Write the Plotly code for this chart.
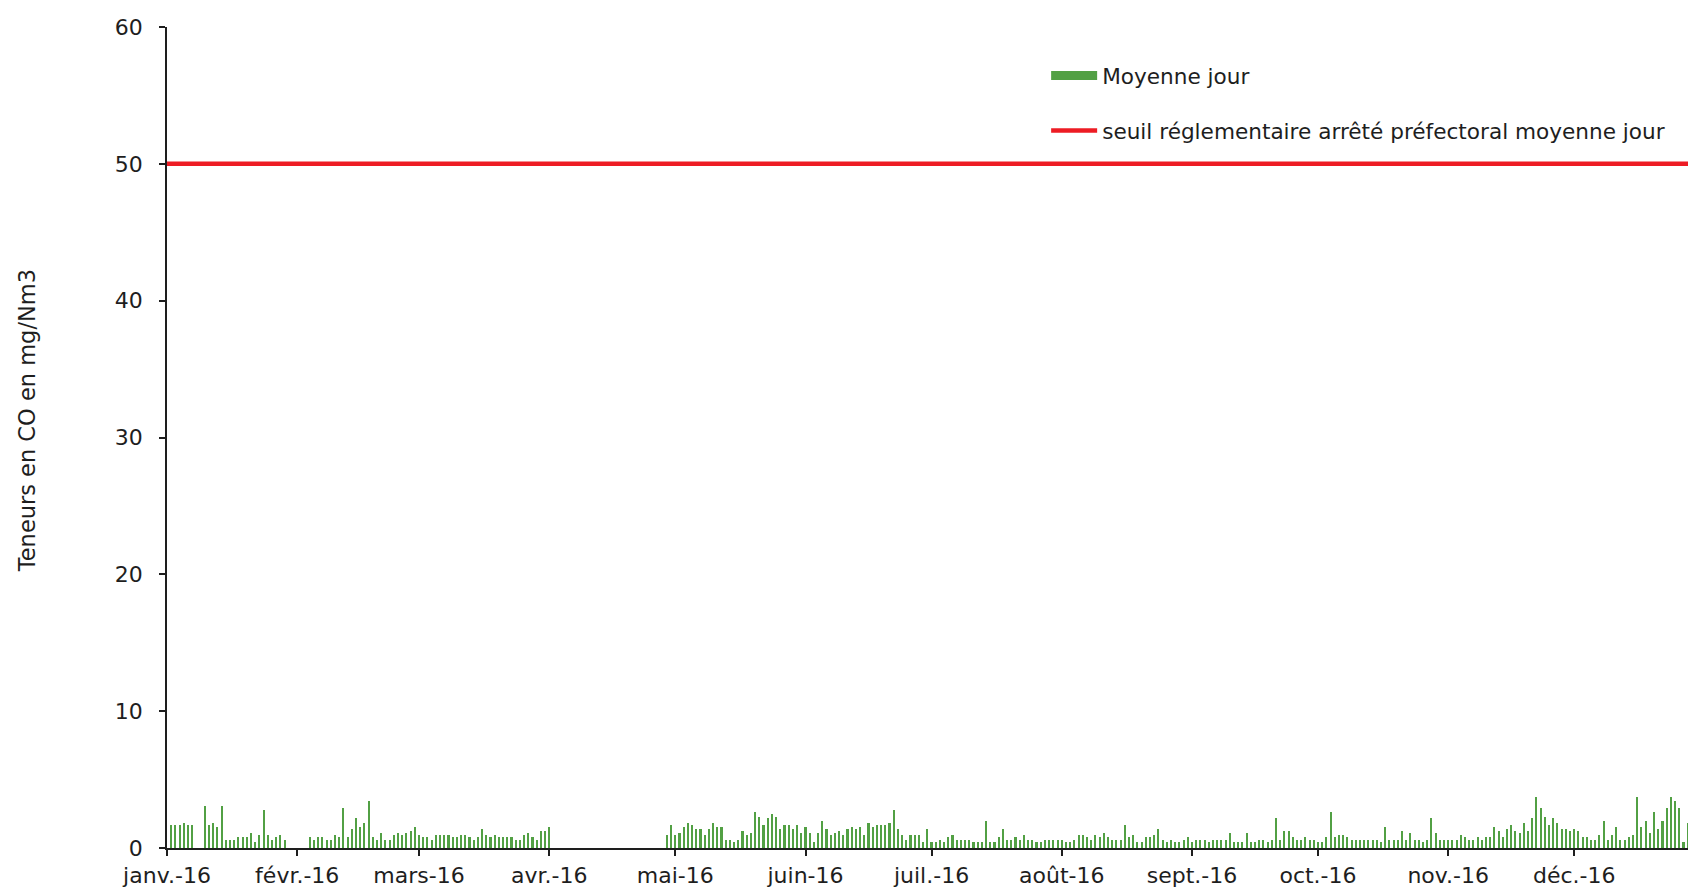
import datetime as dt
import plotly.graph_objects as go

# ---- data (daily means, mg/Nm3), None = no measurement ----
jan = [1.7, 1.7, 1.7, 1.85, 1.7, 1.7, None, None,
       3.1, 1.7, 1.85, 1.55, 3.1, 0.6, 0.6, 0.6, 0.78, 0.78, 0.78, 1.07,
       0.46, 0.93, 2.8, 0.93, 0.6, 0.78, 0.93, 0.6, None, None, None]
feb = [None, None,
       0.78, 0.6, 0.78, 0.78, 0.6, 0.6, 0.93, 0.78, 2.95, 0.78, 1.4, 2.17, 1.56,
       1.85, 3.4, 0.78, 0.6, 1.07, 0.6, 0.6, 0.93, 1.07, 0.93, 1.07, 1.24, 1.56, 0.93]
mar = [0.78, 0.78, 0.6, 0.93, 0.93, 0.93, 0.93, 0.78, 0.78, 0.93,
       0.93, 0.78, 0.6, 0.78, 1.4, 0.93, 0.78, 0.93, 0.78, 0.78,
       0.78, 0.78, 0.6, 0.6, 0.93, 1.07, 0.78, 0.6, 1.24, 1.24, 1.56]
apr = [None] * 27 + [0.93, 1.7, 0.93]
may = [1.1, 1.56, 1.85, 1.7, 1.4, 1.4, 0.93, 1.4, 1.85, 1.56,
       1.56, 0.6, 0.6, 0.46, 0.6, 1.24, 0.93, 1.1, 2.63, 2.3,
       1.7, 2.17, 2.5, 2.3, 1.4, 1.7, 1.7, 1.4, 1.7, 1.1, 1.56]
jun = [1.1, 0.46, 1.1, 2.0, 1.4, 0.93, 1.1, 1.24, 0.93, 1.4,
       1.56, 1.4, 1.56, 0.93, 1.85, 1.56, 1.7, 1.7, 1.7, 1.85,
       2.8, 1.4, 0.93, 0.6, 0.93, 0.93, 0.93, 0.46, 1.4, 0.46]
jul = [0.46, 0.6, 0.46, 0.78, 0.93, 0.6, 0.6, 0.6, 0.6, 0.46,
       0.46, 0.46, 2.0, 0.46, 0.46, 0.78, 1.4, 0.6, 0.6, 0.78,
       0.6, 0.93, 0.6, 0.6, 0.46, 0.46, 0.6, 0.6, 0.6, 0.6, 0.6]
aug = [0.46, 0.46, 0.6, 0.93, 0.93, 0.78, 0.6, 0.93, 0.78, 1.07,
       0.78, 0.6, 0.6, 0.6, 1.7, 0.78, 0.93, 0.46, 0.46, 0.78,
       0.78, 0.93, 1.4, 0.6, 0.46, 0.6, 0.46, 0.46, 0.6, 0.78, 0.46]
sep = [0.6, 0.6, 0.6, 0.46, 0.6, 0.6, 0.6, 0.6, 1.07, 0.46,
       0.46, 0.46, 1.07, 0.46, 0.46, 0.6, 0.6, 0.46, 0.6, 2.17,
       0.6, 1.24, 1.24, 0.78, 0.6, 0.6, 0.78, 0.6, 0.6, 0.46]
oct_ = [0.46, 0.78, 2.63, 0.78, 0.93, 0.93, 0.78, 0.6, 0.6, 0.6,
        0.6, 0.6, 0.6, 0.6, 0.46, 1.56, 0.6, 0.6, 0.6, 1.24,
        0.6, 1.07, 0.6, 0.6, 0.46, 0.6, 2.17, 1.07, 0.6, 0.6, 0.6]
nov = [0.6, 0.6, 0.93, 0.78, 0.6, 0.6, 0.78, 0.6, 0.78, 0.78,
       1.56, 1.24, 0.78, 1.4, 1.7, 1.24, 1.07, 1.85, 1.24, 2.17,
       3.73, 2.95, 2.3, 1.7, 2.17, 1.85, 1.4, 1.4, 1.24, 1.4]
dec = [1.24, 0.78, 0.78, 0.6, 0.6, 0.93, 2.0, 0.6, 0.93, 1.56,
       0.6, 0.6, 0.78, 0.93, 3.73, 1.56, 2.0, 1.07, 2.63, 1.4,
       2.0, 2.95, 3.73, 3.4, 2.95, 0.46, 1.85, None, None, None, None]

daily_values = jan + feb + mar + apr + may + jun + jul + aug + sep + oct_ + nov + dec
start_day = dt.date(2016, 1, 1)
daily_dates = [(start_day + dt.timedelta(days=i)).isoformat() for i in range(len(daily_values))]

seuil_dates = ["2016-01-01", "2016-12-31"]
seuil_values = [50, 50]

month_ticks = ["2016-01-01", "2016-02-01", "2016-03-01", "2016-04-01", "2016-05-01", "2016-06-01",
               "2016-07-01", "2016-08-01", "2016-09-01", "2016-10-01", "2016-11-01", "2016-12-01"]
month_labels = ["janv.-16", "févr.-16", "mars-16", "avr.-16", "mai-16", "juin-16",
                "juil.-16", "août-16", "sept.-16", "oct.-16", "nov.-16", "déc.-16"]
y_ticks = [0, 10, 20, 30, 40, 50, 60]

GREEN = "#52a044"
RED = "#ed1c24"
FONT = "DejaVu Sans"
TXT = "#1e1e1e"
DAY_MS = 86400000

fig = go.Figure()
fig.add_trace(go.Bar(
    x=daily_dates, y=daily_values, xperiod=DAY_MS, xperiodalignment="end",
    width=0.5 * DAY_MS, marker=dict(color=GREEN, line=dict(width=0)),
    showlegend=False, name="Moyenne jour"))
# legend entry for the bars (wide flat swatch like the original)
fig.add_trace(go.Scatter(
    x=[None], y=[None], mode="lines", line=dict(color=GREEN, width=9),
    name="Moyenne jour", legendgroup="a"))
fig.add_trace(go.Scatter(
    x=seuil_dates, y=seuil_values, mode="lines", line=dict(color=RED, width=4.5),
    name="seuil réglementaire arrêté préfectoral moyenne jour", legendgroup="b"))

fig.update_layout(
    width=1688, height=888,
    margin=dict(l=167, r=0, t=27, b=40),
    paper_bgcolor="white", plot_bgcolor="white",
    font=dict(family=FONT, size=22, color=TXT),
    bargap=0,
    legend=dict(x=0.578, y=0.966, xanchor="left", yanchor="top",
                traceorder="grouped", tracegroupgap=24, itemwidth=46,
                bgcolor="rgba(0,0,0,0)", font=dict(family=FONT, size=21.6, color=TXT)),
    xaxis=dict(
        type="date", range=["2016-01-01", "2016-12-28 02:00"],
        tickmode="array", tickvals=month_ticks, ticktext=month_labels,
        ticks="outside", ticklen=6, tickwidth=1.5, tickcolor="#1e1e1e",
        showline=True, linecolor="#1e1e1e", linewidth=1.5,
        showgrid=False, zeroline=False, ticklabelstandoff=1,
        tickfont=dict(family=FONT, size=22, color=TXT)),
    yaxis=dict(
        range=[0, 60], tickmode="array", tickvals=y_ticks,
        ticks="outside", ticklen=6, tickwidth=1.5, tickcolor="#1e1e1e",
        showline=True, linecolor="#1e1e1e", linewidth=1.5,
        showgrid=False, zeroline=False, ticklabelstandoff=12,
        tickfont=dict(family=FONT, size=22, color=TXT)),
    annotations=[dict(
        text="Teneurs en CO en mg/Nm3", textangle=-90,
        xref="paper", yref="paper", x=-0.092, y=0.52,
        xanchor="center", yanchor="middle", showarrow=False,
        font=dict(family=FONT, size=22.5, color=TXT))],
)

fig.write_html(
    "out.html",
    config={"displayModeBar": False},
    post_script="document.body.style.margin='0';document.body.style.overflow='hidden';",
)
